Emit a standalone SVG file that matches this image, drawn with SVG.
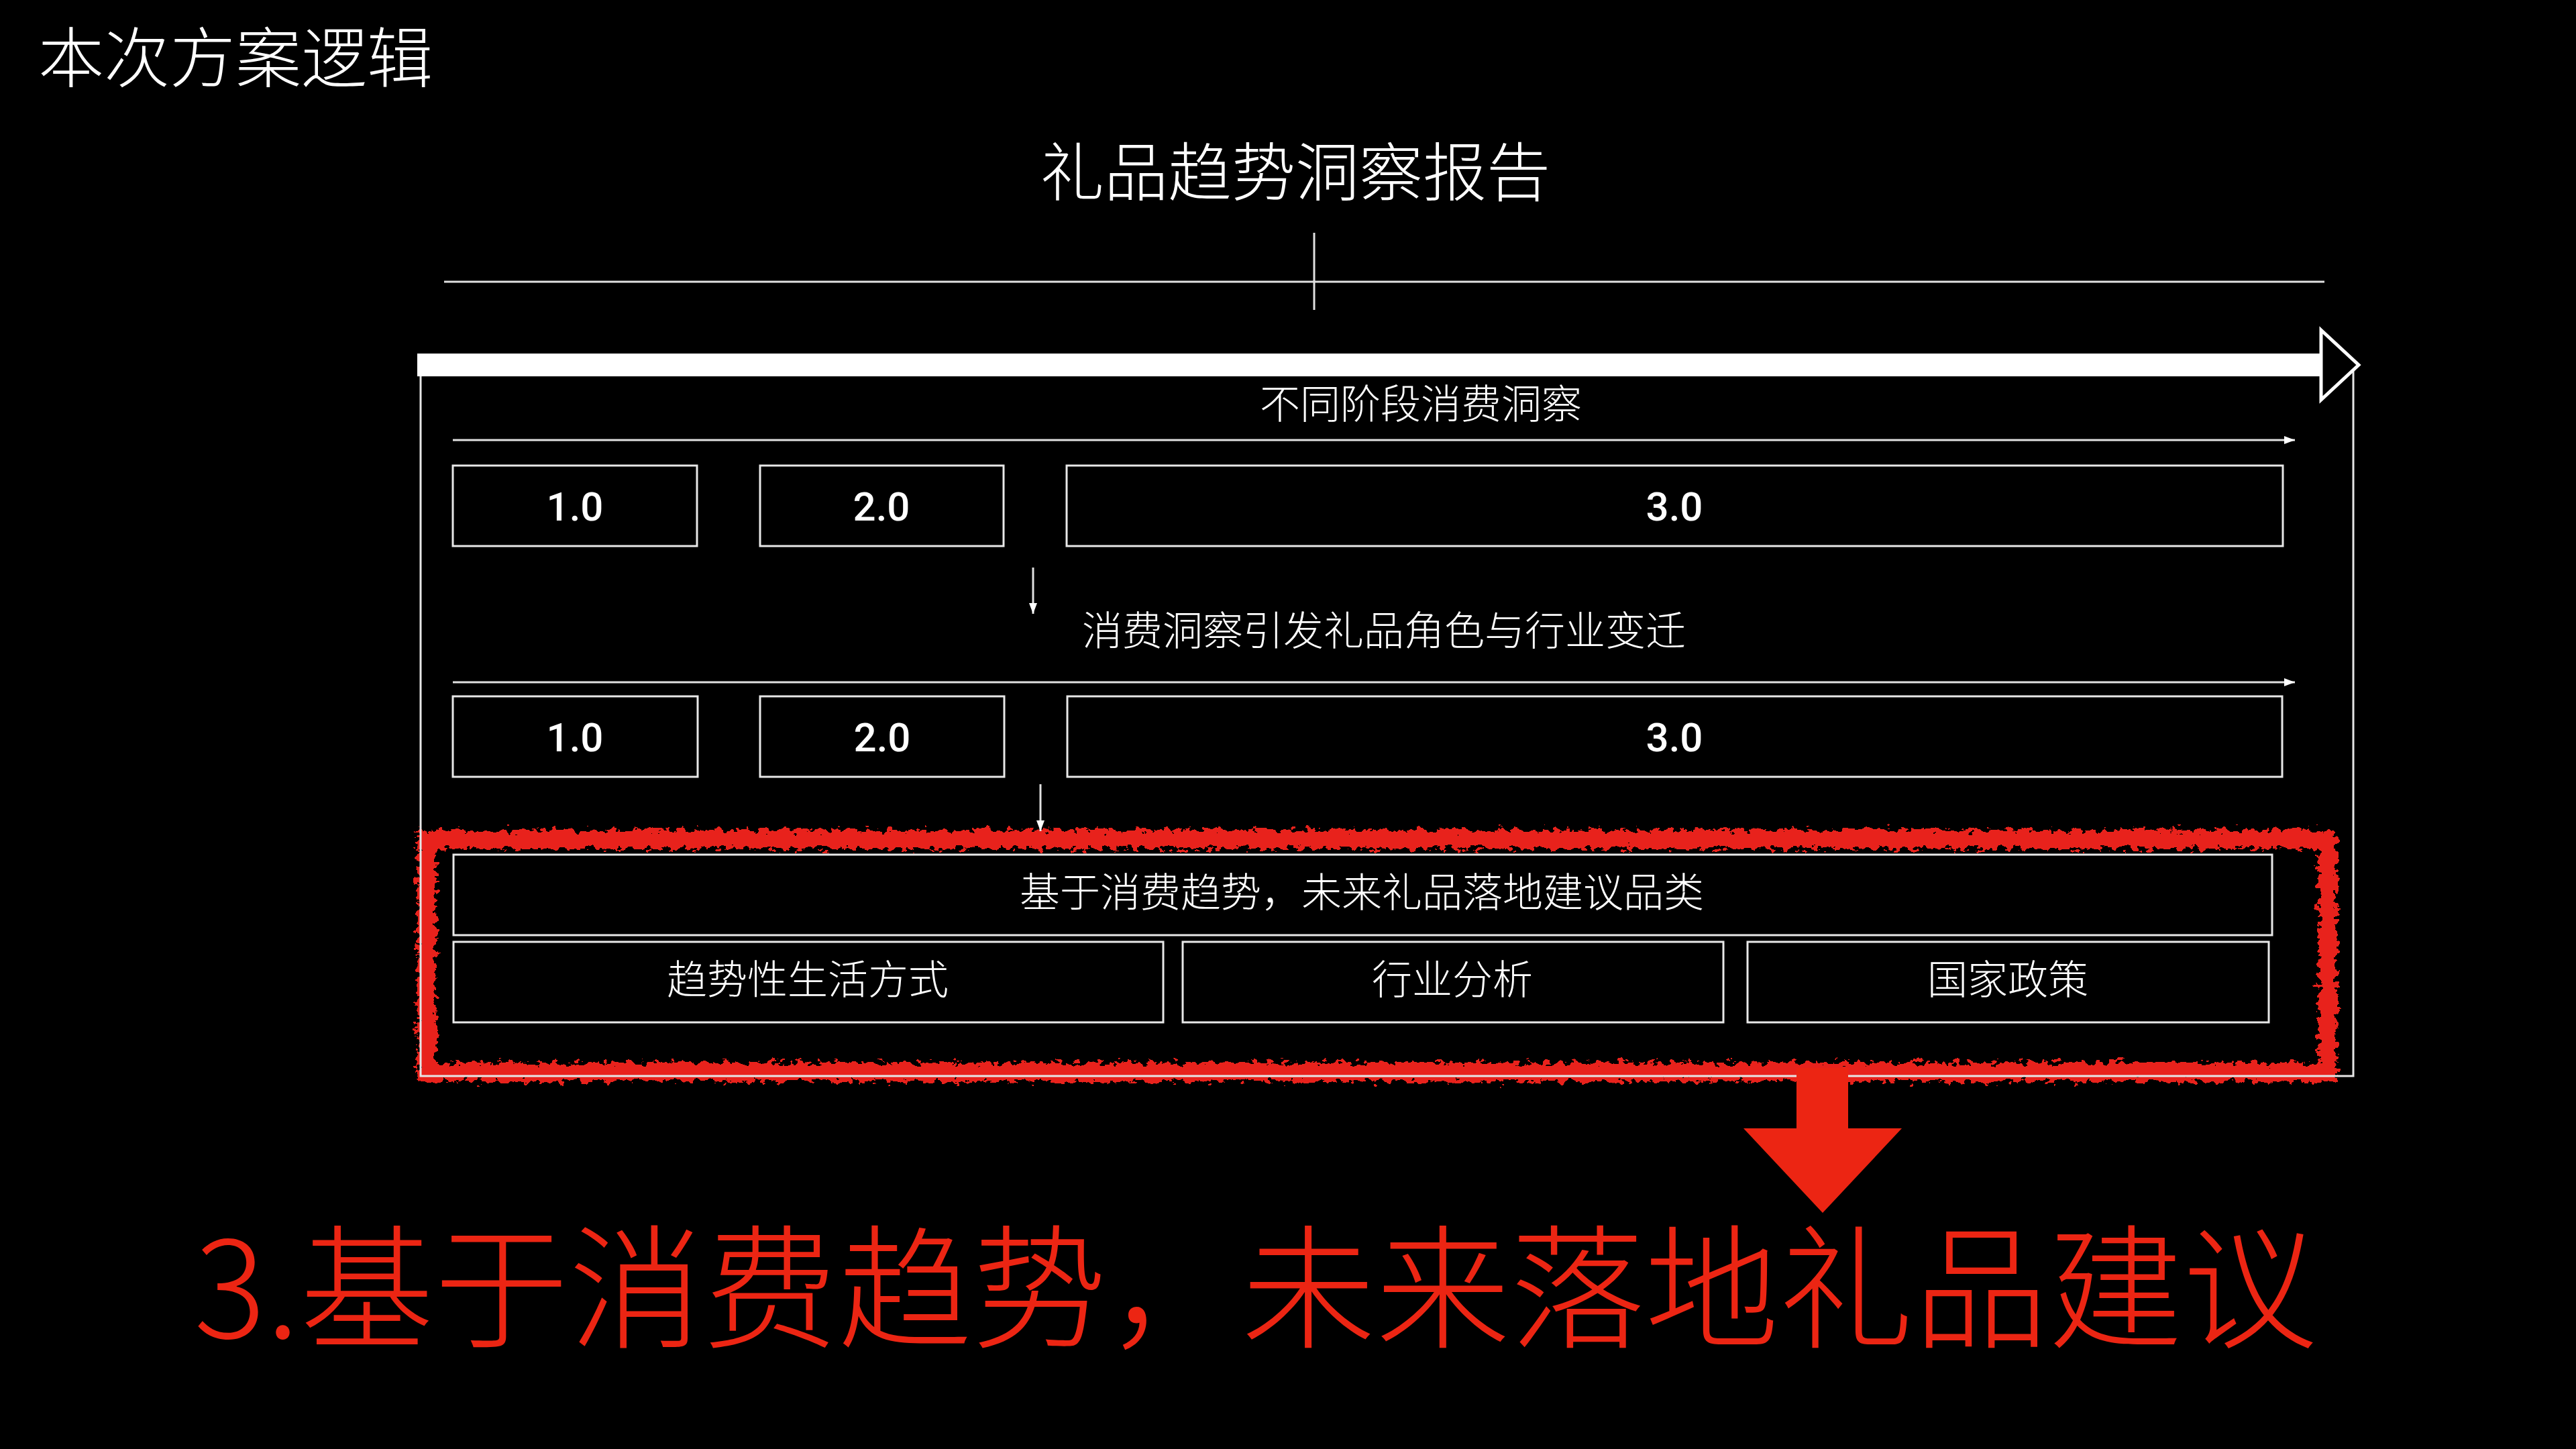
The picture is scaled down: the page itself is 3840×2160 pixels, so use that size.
<svg xmlns="http://www.w3.org/2000/svg" width="3840" height="2160" viewBox="0 0 3840 2160">
<style>
.cjk{font-family:"Noto Sans CJK SC","Noto Sans",sans-serif;font-weight:300;fill:#FFFFFF}
.lbl{font-size:60px;text-anchor:middle}
.num{font-family:Roboto,"Liberation Sans",sans-serif;font-weight:500;font-size:60px;fill:#FFFFFF;text-anchor:middle}
.box{fill:#000000;stroke:#E8E8E8;stroke-width:3}
.ln{stroke:#E0E0E0;stroke-width:3;fill:none}
</style>
<defs>
<marker id="ah" markerUnits="userSpaceOnUse" markerWidth="18" markerHeight="16" refX="16" refY="8" orient="auto">
<path d="M0,2 L16,8 L0,14 Z" fill="#FFFFFF"/>
</marker>
<filter id="rough" filterUnits="userSpaceOnUse" x="560" y="1180" width="3000" height="500">
<feTurbulence type="fractalNoise" baseFrequency="0.09 0.12" numOctaves="3" seed="4" result="n"/>
<feDisplacementMap in="SourceGraphic" in2="n" scale="24" xChannelSelector="R" yChannelSelector="G"/>
</filter>
</defs>
<rect x="0" y="0" width="3840" height="2160" fill="#000000"/>

<g id="page-title">
<text class="cjk" x="57" y="122" font-size="98" font-weight="200">本次方案逻辑</text>
</g>

<g id="report-title">
<text class="cjk" x="1931" y="292" font-size="95" font-weight="200" text-anchor="middle">礼品趋势洞察报告</text>
</g>

<g id="highlight-frame">
<rect x="636" y="1251" width="2834" height="347" fill="none" stroke="#E8231A" stroke-width="28" filter="url(#rough)"/>
</g>

<g id="outer-frame">
<rect x="627" y="550" width="2881" height="1054" fill="none" stroke="#E6E6E6" stroke-width="3"/>
</g>

<g id="connectors">
<line class="ln" x1="662" y1="420" x2="3465" y2="420"/>
<line class="ln" x1="1959" y1="347" x2="1959" y2="462" stroke-width="2"/>
<rect x="622" y="527" width="2840" height="34" fill="#FFFFFF"/>
<path d="M3460,492 L3516,544 L3460,596 Z" fill="#000000" stroke="#FFFFFF" stroke-width="5" stroke-linejoin="miter"/>
<line class="ln" x1="675" y1="656" x2="3421" y2="656" marker-end="url(#ah)"/>
<line class="ln" x1="675" y1="1017" x2="3421" y2="1017" marker-end="url(#ah)"/>
<line class="ln" x1="1540" y1="846" x2="1540" y2="915" stroke-width="2" marker-end="url(#ah)"/>
<line class="ln" x1="1551" y1="1169" x2="1551" y2="1239" stroke-width="2" marker-end="url(#ah)"/>
<path d="M2678,1592 L2755,1592 L2755,1682 L2835,1682 L2717,1808 L2599,1682 L2678,1682 Z" fill="#EC2513"/>
</g>

<g id="stage-label">
<text class="cjk lbl" x="2118" y="624">不同阶段消费洞察</text>
</g>
<g id="s1-1"><rect class="box" x="675" y="694" width="364" height="120"/><text class="num" x="857" y="776">1.0</text></g>
<g id="s1-2"><rect class="box" x="1133" y="694" width="363" height="120"/><text class="num" x="1314" y="776">2.0</text></g>
<g id="s1-3"><rect class="box" x="1590" y="694" width="1813" height="120"/><text class="num" x="2496" y="776">3.0</text></g>

<g id="change-label">
<text class="cjk lbl" x="2063" y="962">消费洞察引发礼品角色与行业变迁</text>
</g>
<g id="s2-1"><rect class="box" x="675" y="1038" width="365" height="120"/><text class="num" x="857" y="1120">1.0</text></g>
<g id="s2-2"><rect class="box" x="1133" y="1038" width="364" height="120"/><text class="num" x="1315" y="1120">2.0</text></g>
<g id="s2-3"><rect class="box" x="1591" y="1038" width="1811" height="120"/><text class="num" x="2496" y="1120">3.0</text></g>

<g id="suggest"><rect class="box" x="676" y="1274" width="2711" height="120"/><text class="cjk lbl" x="2030" y="1352">基于消费趋势，未来礼品落地建议品类</text></g>
<g id="lifestyle"><rect class="box" x="676" y="1404" width="1058" height="120"/><text class="cjk lbl" x="1204" y="1482">趋势性生活方式</text></g>
<g id="industry"><rect class="box" x="1763" y="1404" width="806" height="120"/><text class="cjk lbl" x="2165" y="1482">行业分析</text></g>
<g id="policy"><rect class="box" x="2605" y="1404" width="777" height="120"/><text class="cjk lbl" x="2993" y="1482">国家政策</text></g>

<g id="conclusion">
<text x="289" y="1994" font-family="Noto Sans CJK SC,Noto Sans,sans-serif" font-weight="200" font-size="200" letter-spacing="0.5" fill="#EC2513">3.基于消费趋势，未来落地礼品建议</text>
</g>
</svg>
